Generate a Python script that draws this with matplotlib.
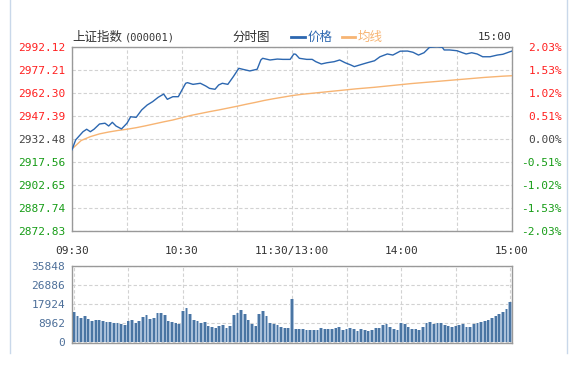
import matplotlib
matplotlib.use('Agg')
import matplotlib.pyplot as plt
import numpy as np

# price readings (minute from 09:30, lunch break removed), read every ~2-3 minutes
price_min = [0, 2, 6, 8, 10, 12, 15, 18, 20, 22, 24, 27, 30, 32, 35, 38, 41, 44, 47, 50,
             52, 55, 58, 60, 62, 63, 66, 70, 73, 75, 78, 80, 82, 85, 88, 91, 93, 97, 101, 103,
             104, 108, 112, 115, 119, 121, 122, 124, 128, 131, 133, 136, 139, 143, 146, 149, 152, 154, 157, 161,
             165, 168, 172, 175, 179, 183, 186, 189, 192, 195, 199, 202, 203, 206, 210, 213, 215, 218, 221, 224,
             228, 232, 235, 239, 240]
price = [2925.5, 2931.9, 2937.2, 2938.8, 2937.2, 2938.8, 2942.2, 2942.7, 2940.9, 2943.3,
         2940.9, 2939.0, 2942.7, 2946.9, 2946.5, 2951.3, 2954.5, 2956.7, 2959.5, 2961.6,
         2958.2, 2959.9, 2959.9, 2964.3, 2968.6, 2969.0, 2967.9, 2968.6, 2966.8, 2965.3,
         2964.7, 2967.5, 2968.6, 2967.9, 2972.9, 2978.3, 2977.7, 2976.6, 2977.7, 2983.7,
         2984.8, 2983.7, 2984.3, 2984.1, 2984.1, 2987.6, 2987.4, 2984.8, 2984.1, 2984.1,
         2982.6, 2981.1, 2981.9, 2982.6, 2983.7, 2981.9, 2980.5, 2979.4, 2980.5, 2981.9,
         2983.2, 2985.8, 2987.6, 2986.9, 2989.4, 2989.5, 2988.7, 2986.9, 2988.4, 2991.9,
         2992.3, 2991.9, 2990.2, 2990.2, 2989.7, 2988.4, 2987.6, 2988.4, 2987.6, 2985.8,
         2985.8, 2986.9, 2987.4, 2989.1, 2989.5]

# average line, one value every 5 minutes
avg_line = [2926.0, 2931.5, 2934.0, 2935.8, 2937.0, 2938.0, 2938.8, 2939.8, 2941.0, 2942.3,
            2943.6, 2944.8, 2946.3, 2947.8, 2949.0, 2950.2, 2951.3, 2952.5, 2953.7, 2955.0,
            2956.2, 2957.5, 2958.6, 2959.6, 2960.6, 2961.4, 2962.0, 2962.6, 2963.2, 2963.8,
            2964.4, 2965.0, 2965.5, 2966.0, 2966.6, 2967.2, 2967.8, 2968.4, 2968.9, 2969.4,
            2969.9, 2970.4, 2970.9, 2971.4, 2971.9, 2972.4, 2972.8, 2973.2, 2973.5]
avg_min = list(range(0, 241, 5))

# volume, one bar every 2 minutes
volume = [14000, 12000, 11300, 12200, 10800, 9600, 10500, 10200, 9750, 9420,
          9150, 9000, 8800, 8500, 7900, 9600, 10200, 9000, 9900, 11700,
          12500, 10600, 11000, 13700, 13700, 12500, 9800, 9420, 9000, 8350,
          14500, 16000, 13000, 10200, 9750, 9000, 9150, 7500, 7000, 6700,
          7500, 7900, 6700, 7400, 12500, 13600, 14800, 13100, 10500, 8200,
          7600, 13000, 14700, 12000, 8700, 8400, 7900, 7180, 6680, 6350,
          20230, 6000, 5800, 5900, 5700, 5600, 5700, 5600, 6650, 5900,
          6000, 5900, 6300, 7000, 5600, 5900, 6400, 6100, 5300, 6000,
          5500, 5300, 5600, 6650, 6650, 7900, 8350, 7000, 6000, 5600,
          8700, 8350, 7000, 6000, 5900, 5600, 6800, 8980, 9400, 8350,
          8700, 8980, 7900, 7400, 7200, 7400, 7900, 8350, 7200, 7200,
          8350, 8980, 9300, 9750, 10100, 11000, 12050, 13300, 14170, 15600,
          18670]
vol_min = list(range(0, 241, 2))

price_levels = [2872.83, 2887.74, 2902.65, 2917.56, 2932.48, 2947.39, 2962.30, 2977.21, 2992.12]
pct_labels = ['-2.03%', '-1.53%', '-1.02%', '-0.51%', '0.00%', '0.51%', '1.02%', '1.53%', '2.03%']
vol_levels = [0, 8962, 17924, 26886, 35848]
time_ticks = [0, 60, 120, 180, 240]
time_labels = ['09:30', '10:30', '11:30/13:00', '14:00', '15:00']

W, H = 576, 365
RED = '#ff2020'
GREEN = '#169c16'
GRAY = '#444444'
BLUE = '#2c67b0'
ORANGE = '#f7b473'
VOLC = '#4a75a3'
GRID = '#d2d2d2'
MONO = 'DejaVu Sans Mono'
CJK = ['Noto Sans CJK SC', 'DejaVu Sans']


def fx(x):
    return x / W


def fy(y):
    return 1 - y / H


def level_color(v):
    if v > 2932.48:
        return RED
    if v < 2932.48:
        return GREEN
    return GRAY


fig = plt.figure(figsize=(W / 100, H / 100), dpi=100)

# main price panel
ax = fig.add_axes([fx(72), fy(231), fx(512) - fx(72), fy(47) - fy(231)])
ax.plot(avg_min, avg_line, color=ORANGE, lw=1.0, zorder=3)
ax.plot(price_min, price, color=BLUE, lw=1.0, zorder=4)
ax.set_xlim(0, 240)
ax.set_ylim(price_levels[0], price_levels[-1])
ax.set_yticks(price_levels)
ax.set_yticklabels(['%.2f' % v for v in price_levels], fontfamily=MONO, fontsize=8)
for lab, v in zip(ax.get_yticklabels(), price_levels):
    lab.set_color(level_color(v))
ax.set_xticks(range(0, 241, 30))
ax.set_xticklabels(['' if m % 60 else time_labels[time_ticks.index(m)] for m in range(0, 241, 30)],
                   fontfamily=MONO, fontsize=8, color='#333333')
ax.tick_params(length=0, pad=5)
ax.tick_params(axis='x', pad=11)
ax.grid(True, color=GRID, ls=(0, (3, 2)), lw=0.8)
for s in ax.spines.values():
    s.set_color('#999999')
    s.set_linewidth(1.0)

ax2 = ax.twinx()
ax2.set_ylim(ax.get_ylim())
ax2.set_yticks(price_levels)
ax2.set_yticklabels(pct_labels, fontfamily=MONO, fontsize=8, ha='right')
for lab, v in zip(ax2.get_yticklabels(), price_levels):
    lab.set_color(level_color(v))
ax2.tick_params(length=0, pad=36)
for s in ax2.spines.values():
    s.set_visible(False)

# volume panel: light full-width bars with a darker core
axv = fig.add_axes([fx(72), fy(343), fx(512) - fx(72), fy(266) - fy(343)])
axv.bar(vol_min, volume, width=2.0, color='#a8bfd9', linewidth=0, zorder=2)
axv.bar(vol_min, volume, width=1.0, color=VOLC, linewidth=0, zorder=3)
axv.set_xlim(-1, 241)
axv.set_ylim(-600, 35848)
axv.set_yticks(vol_levels)
axv.set_yticklabels([str(v) for v in vol_levels], fontfamily=MONO, fontsize=8, color='#4d6f99')
axv.set_xticks(range(0, 241, 30))
axv.set_xticklabels([])
axv.tick_params(length=0, pad=5)
axv.grid(True, color=GRID, ls=(0, (3, 2)), lw=0.8)
for s in axv.spines.values():
    s.set_color('#999999')
    s.set_linewidth(1.0)

# header texts
fig.text(fx(72), fy(37), '上证指数', fontfamily=CJK, fontsize=9, color='#333333', va='center')
fig.text(fx(125), fy(37), '(000001)', fontfamily=MONO, fontsize=7.5, color='#333333', va='center')
fig.text(fx(251), fy(37), '分时图', fontfamily=CJK, fontsize=9, color='#333333', va='center', ha='center')
fig.add_artist(plt.Line2D([fx(291), fx(305)], [fy(37), fy(37)], color=BLUE, lw=2, transform=fig.transFigure))
fig.text(fx(308), fy(37), '价格', fontfamily=CJK, fontsize=9, color=BLUE, va='center')
fig.add_artist(plt.Line2D([fx(342), fx(355)], [fy(37), fy(37)], color=ORANGE, lw=2, transform=fig.transFigure))
fig.text(fx(358), fy(37), '均线', fontfamily=CJK, fontsize=9, color=ORANGE, va='center')
fig.text(fx(511), fy(37), '15:00', fontfamily=MONO, fontsize=8, color='#333333', va='center', ha='right')

# outer light blue frame
for xe in (10, 567):
    fig.add_artist(plt.Line2D([fx(xe), fx(xe)], [fy(0), fy(353)], color='#c9d8ea', lw=1,
                              transform=fig.transFigure))

fig.savefig('out.png', dpi=100)
